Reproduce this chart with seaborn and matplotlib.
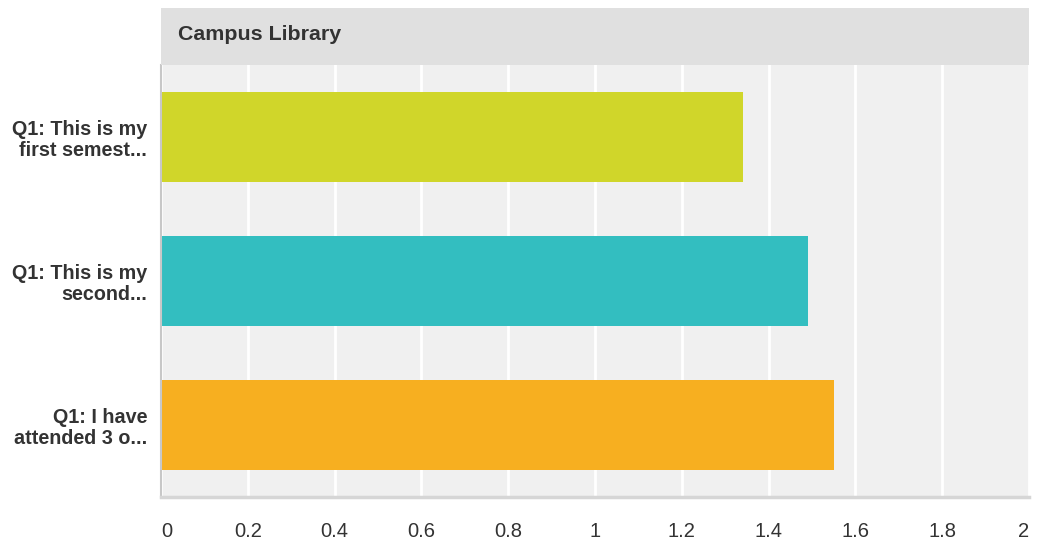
import matplotlib
matplotlib.use("Agg")
import matplotlib.pyplot as plt
import seaborn as sns
import pandas as pd
from matplotlib.patches import Rectangle

categories = ["Q1: This is my\nfirst semest...",
              "Q1: This is my\nsecond...",
              "Q1: I have\nattended 3 o..."]
values = [1.34, 1.49, 1.55]
colors = ["#D0D62A", "#33BEC0", "#F7AF20"]
xticks = [0, 0.2, 0.4, 0.6, 0.8, 1, 1.2, 1.4, 1.6, 1.8, 2]
xticklabels = ["0", "0.2", "0.4", "0.6", "0.8", "1", "1.2", "1.4", "1.6", "1.8", "2"]
title = "Campus Library"

plt.rcParams['font.family'] = ['Liberation Sans', 'DejaVu Sans']

W, H = 1037, 545
fig = plt.figure(figsize=(W / 100, H / 100), dpi=100)
ax = fig.add_axes([161 / W, (H - 497) / H, (1029 - 161) / W, (497 - 65) / H])

df = pd.DataFrame({"cat": categories, "val": values})
sns.barplot(data=df, y="cat", x="val", hue="cat", palette=colors,
            orient="h", width=0.63, legend=False, ax=ax, saturation=1)

ax.set_facecolor("#F0F0F0")
ax.set_xlim(0, 2)
ax.set_ylim(2.5, -0.5)
ax.set_xticks(xticks)
ax.set_xticklabels(xticklabels)
ax.grid(axis="x", color="white", linewidth=2)
ax.grid(axis="y", visible=False)
ax.set_axisbelow(True)
ax.set_xlabel("")
ax.set_ylabel("")

for s in ["top", "right"]:
    ax.spines[s].set_visible(False)
ax.spines["left"].set_color("#C8C8C8")
ax.spines["left"].set_linewidth(1.5)
ax.spines["bottom"].set_color("#D6D6D6")
ax.spines["bottom"].set_linewidth(2.5)

ax.tick_params(axis="x", length=0, pad=18, labelsize=14.5, labelcolor="#333333")
ax.tick_params(axis="y", length=0, pad=10, labelsize=14.2, labelcolor="#333333")
xl = ax.get_xticklabels()
xl[0].set_ha("left")
xl[-1].set_ha("right")
for lab in ax.get_yticklabels():
    lab.set_fontweight("bold")
    lab.set_multialignment("right")
    lab.set_linespacing(1.15)

# header band
fig.patches.append(Rectangle((161 / W, (H - 65) / H), (1029 - 161) / W, (65 - 8) / H,
                             transform=fig.transFigure, facecolor="#E0E0E0",
                             edgecolor="none", zorder=0))
fig.text(178 / W, (H - 34) / H, title, fontsize=15.4, fontweight="bold",
         color="#333333", ha="left", va="center")

fig.savefig("out.png", dpi=100)
